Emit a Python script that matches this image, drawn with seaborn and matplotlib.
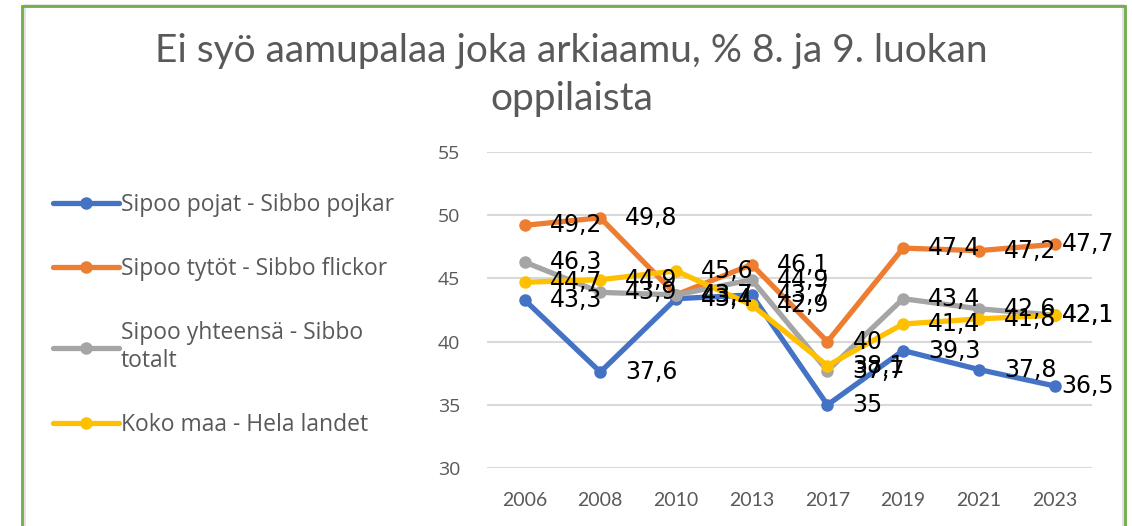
import matplotlib
matplotlib.use("Agg")
import matplotlib.pyplot as plt
import seaborn as sns
import pandas as pd
from matplotlib.patches import Rectangle

# data
years = ["2006", "2008", "2010", "2013", "2017", "2019", "2021", "2023"]
pojat = [43.3, 37.6, 43.4, 43.7, 35.0, 39.3, 37.8, 36.5]
tytot = [49.2, 49.8, 43.7, 46.1, 40.0, 47.4, 47.2, 47.7]
yhteensa = [46.3, 43.9, 43.7, 44.9, 37.7, 43.4, 42.6, 42.1]
koko_maa = [44.7, 44.9, 45.6, 42.9, 38.1, 41.4, 41.8, 42.1]

series_names = ["Sipoo pojat - Sibbo pojkar",
                "Sipoo tytöt - Sibbo flickor",
                "Sipoo yhteensä - Sibbo\ntotalt",
                "Koko maa - Hela landet"]
series_values = [pojat, tytot, yhteensa, koko_maa]
colors = ["#4472C4", "#ED7D31", "#A5A5A5", "#FFC000"]

rows = []
for name, vals in zip(series_names, series_values):
    for y, v in zip(years, vals):
        rows.append({"vuosi": y, "arvo": v, "sarja": name})
df = pd.DataFrame(rows)

sns.set_theme(style="white")
plt.rcParams["font.family"] = ["Open Sans", "DejaVu Sans"]

fig = plt.figure(figsize=(11.32, 5.26), dpi=100)
ax = fig.add_axes([0.430, 0.110, 0.535, 0.601])

sns.lineplot(data=df, x="vuosi", y="arvo", hue="sarja", hue_order=series_names,
             palette=colors, marker="o", markersize=9, markeredgewidth=0,
             linewidth=3.8, sort=False, ax=ax, legend=True)

# data labels to the right of every point (last column pulled in, like Excel)
last = len(years) - 1
for vals in series_values:
    for i, v in enumerate(vals):
        dx = 5 if i == last else 18
        ax.annotate(f"{v:g}".replace(".", ","), (i, v), xytext=(dx, 0),
                    textcoords="offset points", ha="left", va="center",
                    fontsize=17, color="black", family="DejaVu Sans",
                    zorder=10, annotation_clip=False)

ax.set_ylim(30, 55)
ax.set_xlim(-0.5, len(years) - 0.5)
ax.set_yticks(range(30, 56, 5))
ax.yaxis.grid(True, color="#D9D9D9", linewidth=1.5)
ax.xaxis.grid(False)
for s in ax.spines.values():
    s.set_visible(False)
ax.tick_params(axis="y", length=0, pad=19, labelsize=14, labelcolor="#595959")
ax.tick_params(axis="x", length=0, pad=17, labelsize=14, labelcolor="#595959")
for lab in ax.get_xticklabels():
    lab.set_family("Lato")
ax.set_xlabel("")
ax.set_ylabel("")

handles, labels = ax.get_legend_handles_labels()
ax.get_legend().remove()
leg = fig.legend(handles, labels, loc="upper left", bbox_to_anchor=(0.029, 0.672),
                 frameon=False, fontsize=16.5, labelspacing=1.75, handlelength=2.85,
                 handletextpad=0.1)
for t in leg.get_texts():
    t.set_color("#595959")

fig.text(0.505, 0.857, "Ei syö aamupalaa joka arkiaamu, % 8. ja 9. luokan\noppilaista",
         ha="center", va="center", fontsize=28, color="#595959", family="Lato",
         linespacing=1.4)

# chart frame
fig.patches.append(Rectangle((0.021, -0.05), 0.971, 1.04, transform=fig.transFigure,
                             fill=False, edgecolor="#E0E0E0", linewidth=2))
fig.patches.append(Rectangle((0.019, -0.05), 0.975, 1.039, transform=fig.transFigure,
                             fill=False, edgecolor="#70AD47", linewidth=2))

fig.savefig("out.png", dpi=100)
